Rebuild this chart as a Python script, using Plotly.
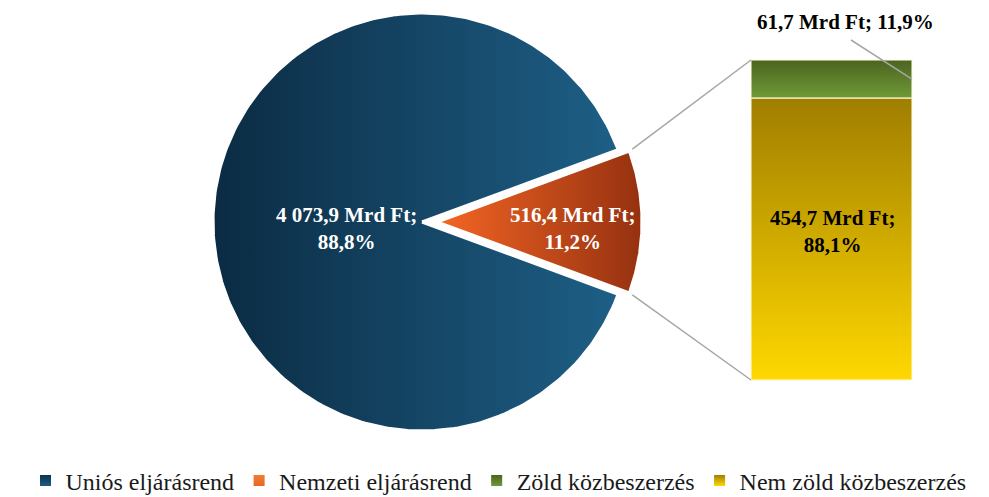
import numpy as np
import plotly.graph_objects as go

# ---------------- data ----------------
pie_categories = ["Uniós eljárásrend", "Nemzeti eljárásrend"]
pie_values = [4073.9, 516.4]
bar_categories = ["Zöld közbeszerzés", "Nem zöld közbeszerzés"]
bar_values = [61.7, 454.7]
unit = "Mrd Ft"

# ---------------- styles / geometry ----------------
W, H = 981, 489                     # page body has an 8px margin
FONT = "Liberation Serif"
CX, CY, R = 414, 275, 209          # main pie centre / radius (axis units = px, y up)
EXPLODE, R2 = 15, 205               # exploded slice offset / radius
BX0, BX1, BBOT, BTOP = 743, 904, 117, 437  # stacked bar box
pie_grad = [["#0b2b43", "#1e5f86"], ["#f46624", "#953110"]]
bar_grad = [["#4b6420", "#6f9a36"], ["#a07e00", "#ffd800"]]  # [top, bottom]
legend_cols = [("#0d3250", "#1d5c82"), ("#f47a30", "#e8672a"),
               ("#4b6420", "#6f9a36"), ("#a07e00", "#ffd800")]


def fmt(v, d=1):
    s = f"{v:,.{d}f}"
    return s.replace(",", " ").replace(".", ",")


total = sum(pie_values)
pie_pct = [v / total * 100 for v in pie_values]
sub_total = sum(bar_values)
bar_pct = [v / sub_total * 100 for v in bar_values]

half = np.radians(360 * pie_values[1] / total / 2)

fig = go.Figure()

# main slice
th = np.linspace(half, 2 * np.pi - half, 300)
xs = np.concatenate([[CX], CX + R * np.cos(th), [CX]])
ys = np.concatenate([[CY], CY + R * np.sin(th), [CY]])
fig.add_trace(go.Scatter(x=xs, y=ys, fill="toself", mode="lines",
                         line=dict(color="white", width=3),
                         fillgradient=dict(type="horizontal",
                                           colorscale=[[0, pie_grad[0][0]], [1, pie_grad[0][1]]]),
                         showlegend=False, hoverinfo="skip"))
# exploded slice
ax = CX + EXPLODE
th2 = np.linspace(-half, half, 80)
xs2 = np.concatenate([[ax], ax + R2 * np.cos(th2), [ax]])
ys2 = np.concatenate([[CY], CY + R2 * np.sin(th2), [CY]])
fig.add_trace(go.Scatter(x=xs2, y=ys2, fill="toself", mode="lines",
                         line=dict(color="white", width=3),
                         fillgradient=dict(type="horizontal",
                                           colorscale=[[0, pie_grad[1][0]], [1, pie_grad[1][1]]]),
                         showlegend=False, hoverinfo="skip"))

# stacked bar (bottom: Nem zöld, top: Zöld)
scale = (BTOP - BBOT) / sub_total
y_nz_top = BBOT + bar_values[1] * scale
y_z_top = y_nz_top + bar_values[0] * scale
segs = [(y_nz_top, y_z_top, bar_grad[0]), (BBOT, y_nz_top, bar_grad[1])]
for y0, y1, g in segs:
    fig.add_trace(go.Scatter(x=[BX0, BX1, BX1, BX0, BX0], y=[y0, y0, y1, y1, y0],
                             fill="toself", mode="lines",
                             line=dict(color="rgba(255,250,220,0.7)", width=1.5),
                             fillgradient=dict(type="vertical",
                                               colorscale=[[0, g[1]], [1, g[0]]]),
                             showlegend=False, hoverinfo="skip"))

# connector lines
top_corner = (ax + R2 * np.cos(half), CY + R2 * np.sin(half))
bot_corner = (ax + R2 * np.cos(-half), CY + R2 * np.sin(-half))
for (px, py), (qx, qy) in [(top_corner, (BX0, y_z_top)), (bot_corner, (BX0, BBOT))]:
    fig.add_trace(go.Scatter(x=[px + 3, qx], y=[py + (2 if py > CY else -2), qy], mode="lines",
                             line=dict(color="#a6a6a6", width=1.5),
                             showlegend=False, hoverinfo="skip"))

# leader line for small segment label
z_mid = (y_nz_top + y_z_top) / 2
fig.add_trace(go.Scatter(x=[843, BX1], y=[457, z_mid], mode="lines",
                         line=dict(color="#a6a6a6", width=1.5),
                         showlegend=False, hoverinfo="skip"))

# legend entries
for name, (c1, c2) in zip(pie_categories + bar_categories, legend_cols):
    fig.add_trace(go.Scatter(x=[None], y=[None], mode="markers", name=name,
                             marker=dict(symbol="square", size=11, color=c1,
                                         gradient=dict(type="vertical", color=c2))))

# labels
LS = 21
lab_font = dict(family=FONT, size=LS, color="white")
ann = []
ann.append(dict(x=CX - 0.36 * R, y=CY - 6,
                text=f"<b>{fmt(pie_values[0])} {unit};<br>{fmt(pie_pct[0])}%</b>",
                font=lab_font))
ann.append(dict(x=ax + 0.66 * R2, y=CY - 6,
                text=f"<b>{fmt(pie_values[1])} {unit};<br>{fmt(pie_pct[1])}%</b>",
                font=lab_font))
ann.append(dict(x=(BX0 + BX1) / 2 + 1, y=(BBOT + y_nz_top) / 2 + 8,
                text=f"<b>{fmt(bar_values[1])} {unit};<br>{fmt(bar_pct[1])}%</b>",
                font=dict(family=FONT, size=LS, color="black")))
ann.append(dict(x=837, y=475,
                text=f"<b>{fmt(bar_values[0])} {unit}; {fmt(bar_pct[0])}%</b>",
                font=dict(family=FONT, size=LS, color="black")))
for a in ann:
    a.update(xref="x", yref="y", showarrow=False, xanchor="center", yanchor="middle")

fig.update_layout(
    width=W, height=H,
    margin=dict(l=0, r=0, t=0, b=0, autoexpand=False),
    paper_bgcolor="white", plot_bgcolor="white",
    xaxis=dict(range=[0, W], visible=False, fixedrange=True),
    yaxis=dict(range=[0, H], visible=False, fixedrange=True),
    annotations=ann,
    showlegend=True,
    legend=dict(orientation="h", x=0.5, xanchor="center", y=-0.013, yanchor="bottom",
                font=dict(family=FONT, size=24, color="#1a1a1a"),
                itemwidth=30, tracegroupgap=0, bgcolor="rgba(0,0,0,0)"),
    font=dict(family=FONT),
)

fig.write_html("out.html")
